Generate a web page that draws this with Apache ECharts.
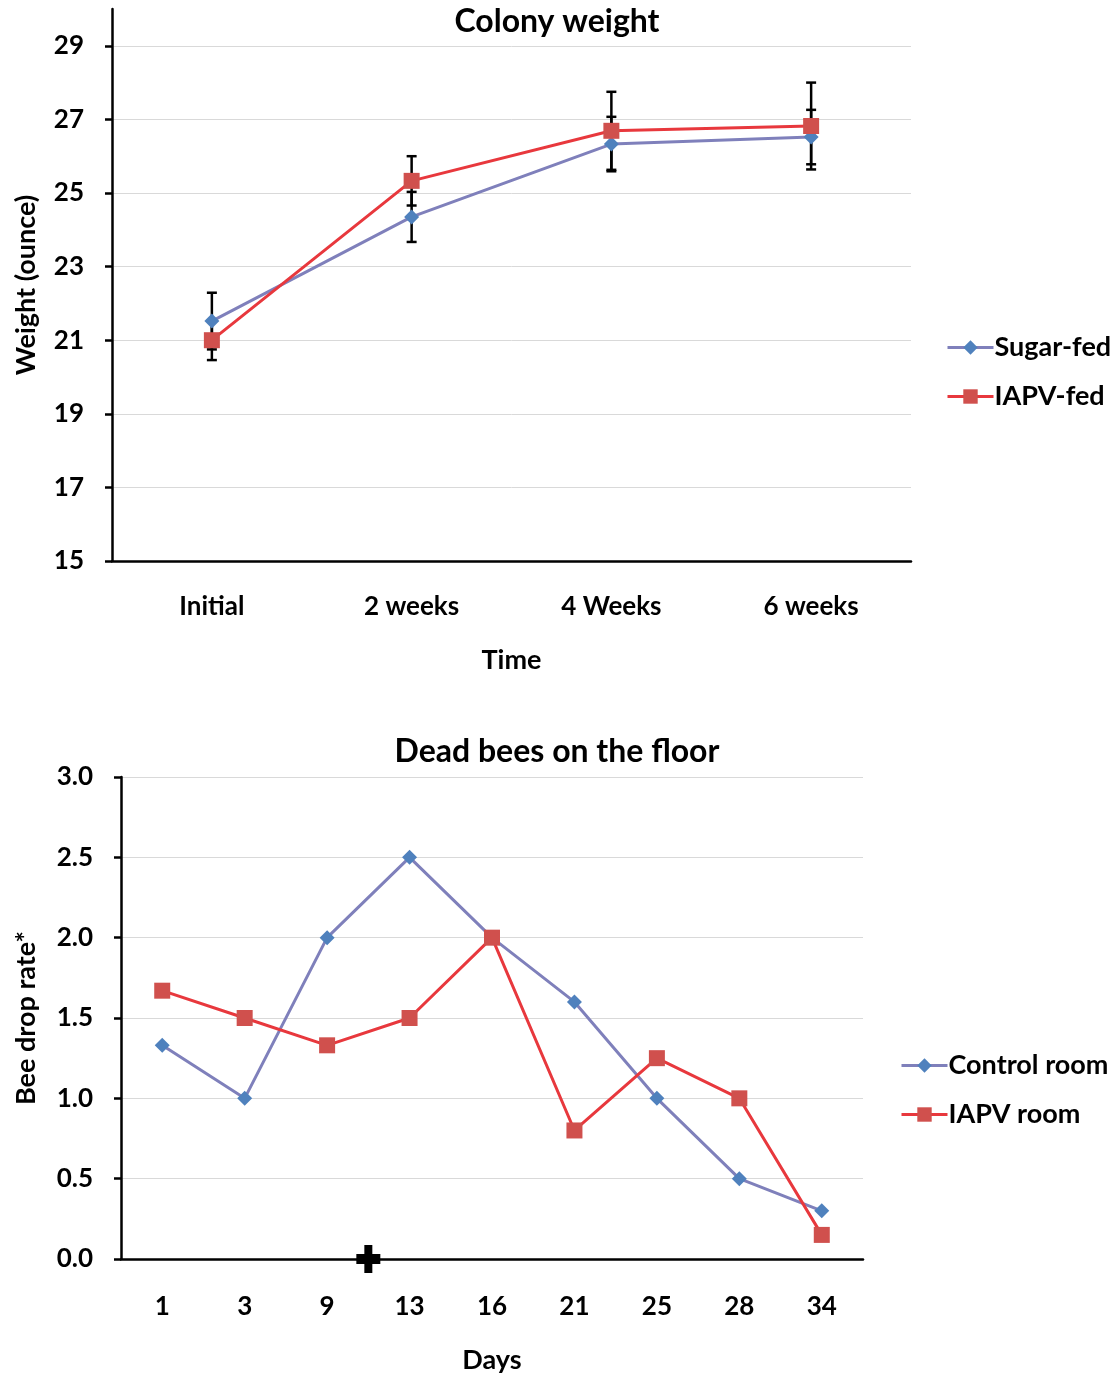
<!DOCTYPE html>
<html>
<head>
<meta charset="utf-8">
<script src="https://cdn.jsdelivr.net/npm/echarts@6/dist/echarts.min.js"></script>
<style>html,body{margin:0;padding:0;background:#fff;}#c{width:1120px;height:1376px;}</style>
</head>
<body>
<div id="c"></div>
<script>
// ---- Data ----
var timeLabels = ['Initial', '2 weeks', '4 Weeks', '6 weeks'];
var sugarFed = [21.52, 24.35, 26.33, 26.52];
var sugarErr = [0.77, 0.68, 0.74, 0.74];
var iapvFed = [21.0, 25.33, 26.69, 26.82];
var iapvErr = [0.54, 0.67, 1.06, 1.18];

var dayLabels = ['1', '3', '9', '13', '16', '21', '25', '28', '34'];
var controlRoom = [1.33, 1.0, 2.0, 2.5, 2.0, 1.6, 1.0, 0.5, 0.3];
var iapvRoom = [1.67, 1.5, 1.33, 1.5, 2.0, 0.8, 1.25, 1.0, 0.15];
var crossBetween = [2, 3]; // marker between day 9 and day 13

var FONT = 'Lato';
var BLUE_LINE = '#7f80bb', BLUE_SYM = '#4f81bd';
var RED_LINE = '#e8383d', RED_SYM = '#d0504d';

function errData(vals, errs) {
  return vals.map(function (v, i) { return [i, v - errs[i], v + errs[i]]; });
}
function errRender(params, api) {
  var lo = api.coord([api.value(0), api.value(1)]);
  var hi = api.coord([api.value(0), api.value(2)]);
  var w = 5;
  var st = { stroke: '#000', lineWidth: 2.5 };
  return {
    type: 'group',
    children: [
      { type: 'line', shape: { x1: lo[0], y1: lo[1], x2: hi[0], y2: hi[1] }, style: st },
      { type: 'line', shape: { x1: lo[0] - w, y1: lo[1], x2: lo[0] + w, y2: lo[1] }, style: st },
      { type: 'line', shape: { x1: hi[0] - w, y1: hi[1], x2: hi[0] + w, y2: hi[1] }, style: st }
    ]
  };
}

var axisTextStyle = { color: '#000', fontFamily: FONT, fontWeight: 'bold', fontSize: 26 };
var nameStyle = { color: '#000', fontFamily: FONT, fontWeight: 'bold', fontSize: 27 };
var legendText = { color: '#000', fontFamily: FONT, fontWeight: 'bold', fontSize: 27, lineHeight: 27, padding: [0, 0, 0, -4] };

var chart = echarts.init(document.getElementById('c'), null, { renderer: 'canvas' });
chart.setOption({
  backgroundColor: '#fff',
  animation: false,
  title: [
    { text: 'Colony weight', left: 552, top: 1, textAlign: 'center',
      textStyle: { color: '#000', fontFamily: FONT, fontWeight: 'bold', fontSize: 32 } },
    { text: 'Dead bees on the floor', left: 552, top: 731, textAlign: 'center',
      textStyle: { color: '#000', fontFamily: FONT, fontWeight: 'bold', fontSize: 32 } }
  ],
  legend: [
    { orient: 'vertical', left: 941, top: 329, itemWidth: 46, itemHeight: 18, itemGap: 22,
      data: ['Sugar-fed', 'IAPV-fed'], lineStyle: { width: 3 }, textStyle: legendText },
    { orient: 'vertical', left: 895, top: 1047, itemWidth: 46, itemHeight: 18, itemGap: 22,
      data: ['Control room', 'IAPV room'], lineStyle: { width: 3 }, textStyle: legendText }
  ],
  grid: [
    { left: 112, top: 9, width: 799, height: 552 },
    { left: 121, top: 777, width: 742, height: 482 }
  ],
  xAxis: [
    { type: 'category', gridIndex: 0, data: timeLabels, boundaryGap: true,
      name: 'Time', nameLocation: 'middle', nameGap: 86, nameTextStyle: nameStyle,
      axisLine: { lineStyle: { color: '#000', width: 2.5 } },
      axisTick: { alignWithLabel: true, length: 6, lineStyle: { color: '#000', width: 2.5 } },
      axisLabel: Object.assign({ margin: 33 }, axisTextStyle),
      splitLine: { show: false } },
    { type: 'category', gridIndex: 1, data: dayLabels, boundaryGap: true,
      name: 'Days', nameLocation: 'middle', nameGap: 88, nameTextStyle: nameStyle,
      axisLine: { lineStyle: { color: '#000', width: 2.5 } },
      axisTick: { alignWithLabel: true, length: 6, lineStyle: { color: '#000', width: 2.5 } },
      axisLabel: Object.assign({ margin: 35 }, axisTextStyle),
      splitLine: { show: false } }
  ],
  yAxis: [
    { type: 'value', gridIndex: 0, min: 15, max: 30, interval: 2,
      name: 'Weight (ounce)', nameLocation: 'middle', nameGap: 72, nameTextStyle: nameStyle,
      axisLine: { show: true, lineStyle: { color: '#000', width: 2.5 } },
      axisTick: { show: true, length: 7, lineStyle: { color: '#000', width: 2.5 } },
      axisLabel: Object.assign({ margin: 28, showMaxLabel: false }, axisTextStyle),
      splitLine: { show: true, showMaxLine: false, lineStyle: { color: '#d9d9d9', width: 1 } } },
    { type: 'value', gridIndex: 1, min: 0, max: 3, interval: 0.5,
      name: 'Bee drop rate*', nameLocation: 'middle', nameGap: 81, nameTextStyle: nameStyle,
      axisLine: { show: true, lineStyle: { color: '#000', width: 2.5 } },
      axisTick: { show: true, length: 7, lineStyle: { color: '#000', width: 2.5 } },
      axisLabel: Object.assign({ margin: 28, formatter: function (v) { return v.toFixed(1); } }, axisTextStyle),
      splitLine: { show: true, lineStyle: { color: '#d9d9d9', width: 1 } } }
  ],
  series: [
    { type: 'custom', xAxisIndex: 0, yAxisIndex: 0, z: 1, renderItem: errRender,
      data: errData(sugarFed, sugarErr), silent: true },
    { type: 'custom', xAxisIndex: 0, yAxisIndex: 0, z: 1, renderItem: errRender,
      data: errData(iapvFed, iapvErr), silent: true },
    { name: 'Sugar-fed', type: 'line', xAxisIndex: 0, yAxisIndex: 0, z: 3, data: sugarFed,
      symbol: 'diamond', symbolSize: 15,
      lineStyle: { color: BLUE_LINE, width: 3 }, itemStyle: { color: BLUE_SYM } },
    { name: 'IAPV-fed', type: 'line', xAxisIndex: 0, yAxisIndex: 0, z: 4, data: iapvFed,
      symbol: 'rect', symbolSize: 16,
      lineStyle: { color: RED_LINE, width: 3 }, itemStyle: { color: RED_SYM } },
    { name: 'Control room', type: 'line', xAxisIndex: 1, yAxisIndex: 1, z: 3, data: controlRoom,
      symbol: 'diamond', symbolSize: 15,
      lineStyle: { color: BLUE_LINE, width: 3 }, itemStyle: { color: BLUE_SYM } },
    { name: 'IAPV room', type: 'line', xAxisIndex: 1, yAxisIndex: 1, z: 4, data: iapvRoom,
      symbol: 'rect', symbolSize: 16,
      lineStyle: { color: RED_LINE, width: 3 }, itemStyle: { color: RED_SYM } },
    { type: 'custom', xAxisIndex: 1, yAxisIndex: 1, z: 5, silent: true,
      data: [[crossBetween[0], crossBetween[1], 0]],
      renderItem: function (params, api) {
        var a = api.coord([api.value(0), api.value(2)]);
        var b = api.coord([api.value(1), api.value(2)]);
        var cx = (a[0] + b[0]) / 2, cy = a[1];
        return { type: 'group', children: [
          { type: 'rect', shape: { x: cx - 12, y: cy - 5, width: 24, height: 10 }, style: { fill: '#000' } },
          { type: 'rect', shape: { x: cx - 4, y: cy - 14, width: 8, height: 28 }, style: { fill: '#000' } }
        ] };
      } }
  ]
});
</script>
</body>
</html>
